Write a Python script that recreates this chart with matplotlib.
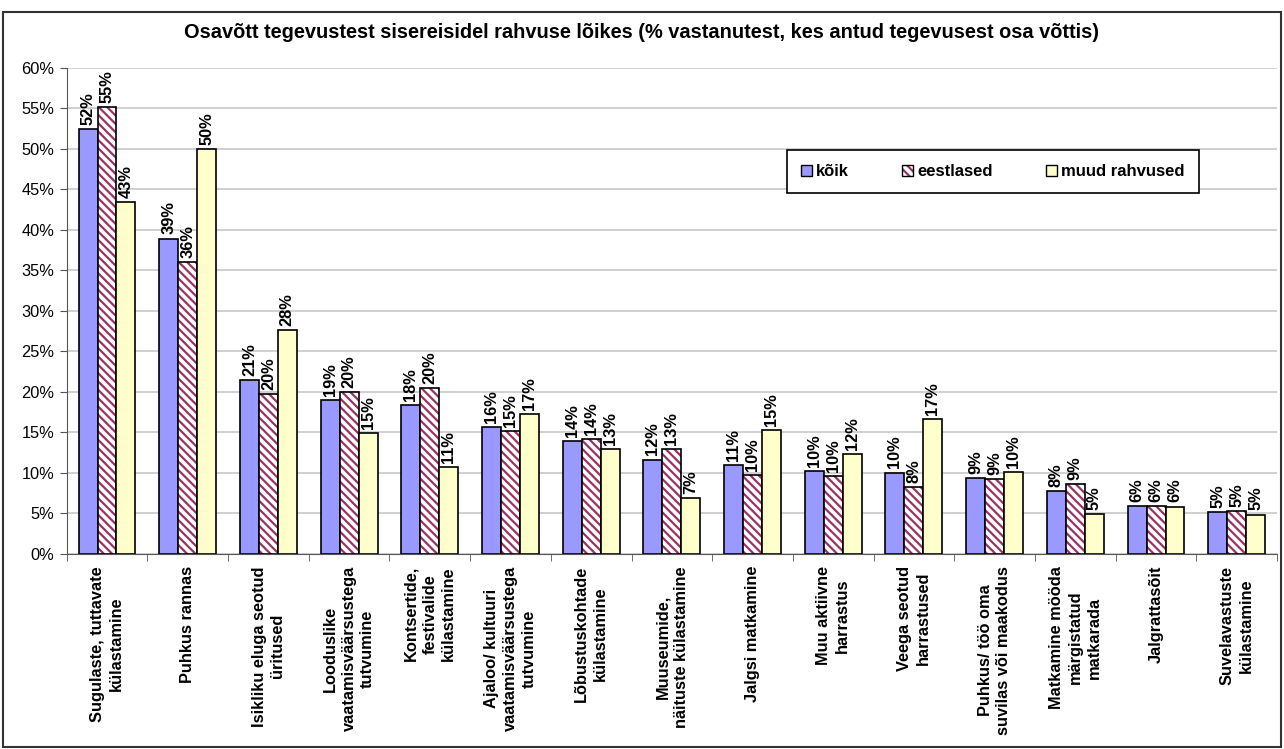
import matplotlib.pyplot as plt
from matplotlib.patches import Rectangle, Patch
import numpy as np

plt.rcParams['font.family'] = ['Liberation Sans', 'DejaVu Sans']
plt.rcParams['hatch.linewidth'] = 1.6

categories = ["Sugulaste, tuttavate\nkülastamine", "Puhkus rannas",
              "Isikliku eluga seotud\nüritused",
              "Looduslike\nvaatamisväärsustega\ntutvumine",
              "Kontsertide,\nfestivalide\nkülastamine",
              "Ajaloo/ kultuuri\nvaatamisväärsustega\ntutvumine",
              "Lõbustuskohtade\nkülastamine",
              "Muuseumide,\nnäituste külastamine", "Jalgsi matkamine",
              "Muu aktiivne\nharrastus", "Veega seotud\nharrastused",
              "Puhkus/ töö oma\nsuvilas või maakodus",
              "Matkamine mööda\nmärgistatud\nmatkarada", "Jalgrattasõit",
              "Suvelavastuste\nkülastamine"]
koik = [52.4, 38.9, 21.4, 18.9, 18.3, 15.6, 13.9, 11.6, 10.9, 10.2, 10.0, 9.3, 7.7, 5.9, 5.1]
eestlased = [55.1, 36.0, 19.7, 19.9, 20.4, 15.1, 14.1, 12.9, 9.7, 9.6, 8.2, 9.2, 8.6, 5.9, 5.2]
muud = [43.4, 49.9, 27.6, 14.9, 10.7, 17.2, 12.9, 6.8, 15.2, 12.3, 16.6, 10.1, 4.9, 5.8, 4.8]
series_names = ["kõik", "eestlased", "muud rahvused"]
yticks = list(range(0, 61, 5))

fig = plt.figure(figsize=(12.84, 7.49), dpi=100)
ax = fig.add_axes([0.0519, 0.261, 0.9427, 0.6486])
fig.patches.append(Rectangle((3/1284, 2/749), 1278/1284, 735/749, transform=fig.transFigure,
                             fill=False, edgecolor='#333333', lw=1.5))

x = np.arange(len(categories))
w = 0.235
ax.set_axisbelow(True)
ax.yaxis.grid(True, color='#C8C8C8', lw=1.2)

b1 = ax.bar(x - w, koik, w, color='#9999FF', edgecolor='black', lw=1.2)
b2h = ax.bar(x, eestlased, w, color='white', edgecolor='#993366', hatch='\\\\\\\\', lw=0)
b2 = ax.bar(x, eestlased, w, fill=False, edgecolor='black', lw=1.2)
b3 = ax.bar(x + w, muud, w, color='#FFFFCC', edgecolor='black', lw=1.2)

for xs, vals in [(x - w, koik), (x, eestlased), (x + w, muud)]:
    for xi, v in zip(xs, vals):
        ax.annotate('%d%%' % round(v), (xi, v), xytext=(0, 3), textcoords='offset points',
                    rotation=90, ha='center', va='bottom', fontsize=11.8, fontweight='bold')

ax.set_xlim(-0.5, len(categories) - 0.5)
ax.set_ylim(0, 60)
ax.set_yticks(yticks, ['%d%%' % t for t in yticks], fontsize=11.8)
ax.set_xticks(x, categories, rotation=90, fontsize=11.8, fontweight='bold',
              multialignment='center', va='top', linespacing=1.3)
ax.set_xticks(np.arange(-0.5, len(categories), 1), minor=True)
ax.tick_params(axis='x', which='major', length=0, pad=9)
ax.tick_params(axis='x', which='minor', length=5, color='#555555')
ax.tick_params(axis='y', length=5, color='#555555', pad=4)
for s in ['top', 'right']:
    ax.spines[s].set_visible(False)
ax.spines['left'].set_color('#555555')
ax.spines['bottom'].set_color('#555555')

handles = [Patch(facecolor='#9999FF', edgecolor='black'),
           (Patch(facecolor='white', edgecolor='#993366', hatch='\\\\\\\\', lw=0),
            Patch(fill=False, edgecolor='black')),
           Patch(facecolor='#FFFFCC', edgecolor='black')]
leg = fig.legend(handles, series_names, ncol=3, loc='center',
                 bbox_to_anchor=(993/1284, 1 - 171.5/749),
                 prop={'weight': 'bold', 'size': 12}, fancybox=False, framealpha=1,
                 edgecolor='black', handlelength=0.65, handleheight=0.65, handletextpad=0.25,
                 columnspacing=3.2, borderpad=0.85, borderaxespad=0)
leg.get_frame().set_linewidth(1.2)

fig.text(0.5, 1 - 32/749, "Osavõtt tegevustest sisereisidel rahvuse lõikes (% vastanutest, kes antud tegevusest osa võttis)",
         ha='center', va='center', fontsize=14.4, fontweight='bold')

plt.savefig("out.png", dpi=100)
